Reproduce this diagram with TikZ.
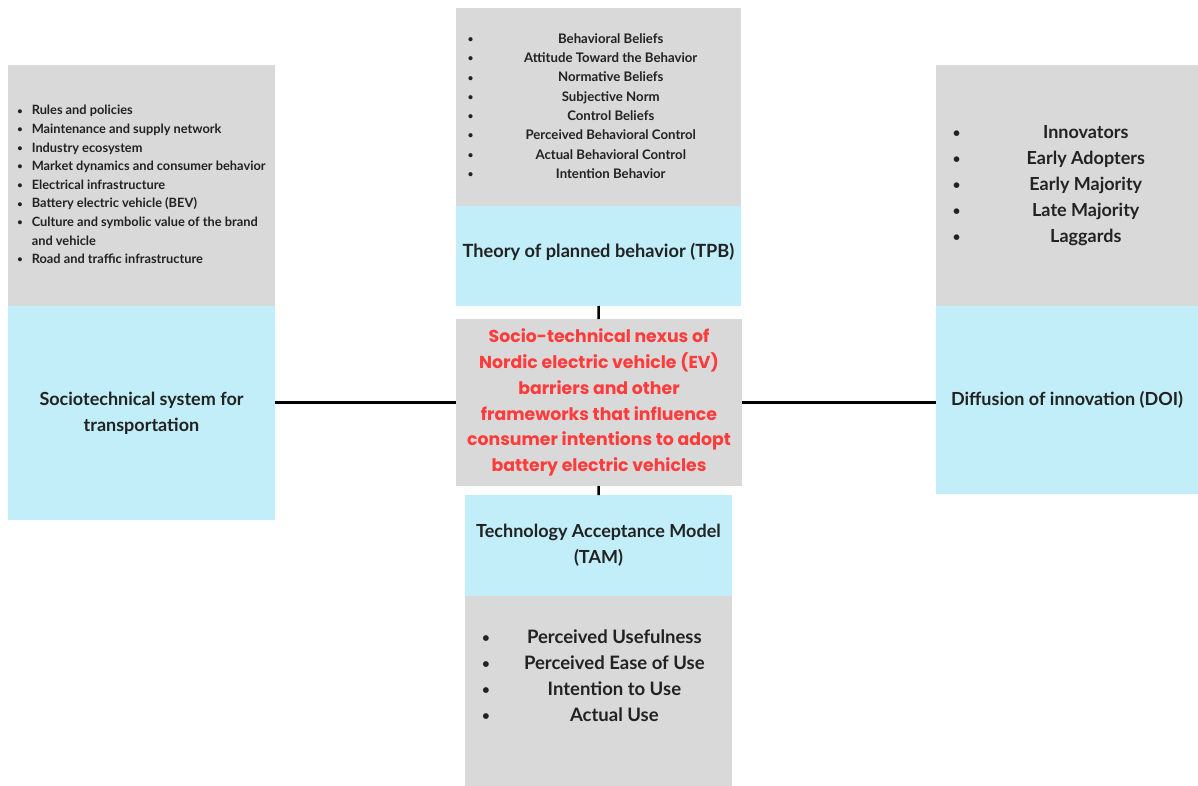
\documentclass[tikz,border=0pt]{standalone}
\usepackage{fontspec}
\setmainfont{Lato}
\newfontfamily\nexusfont{Poppins}
\usepackage{array}
\usetikzlibrary{positioning}

\definecolor{boxgray}{RGB}{217,217,217}
\definecolor{boxblue}{RGB}{193,238,249}
\definecolor{nexusred}{RGB}{255,59,59}
\definecolor{textdark}{RGB}{34,34,34}

\newcommand{\blt}{\raisebox{0.12ex}{\scalebox{0.72}{\textbullet}}}

\begin{document}
\begin{tikzpicture}[x=1pt,y=-1pt]
	\useasboundingbox (0,0) rectangle (1198,786);
	\tikzset{panel/.style={anchor=north west,inner sep=0pt,outer sep=0pt,text=textdark,align=center}}
	% left: sociotechnical system
	\draw (8,65) node (stsitems) [panel,fill=boxgray,minimum width=267pt,minimum height=241pt,font=\fontsize{12.8}{18.6}\selectfont\bfseries] {%
		\begin{tabular}{@{}l@{\hspace{9pt}}l@{}}
		\blt & Rules and policies\\
		\blt & Maintenance and supply network\\
		\blt & Industry ecosystem\\
		\blt & Market dynamics and consumer behavior\\
		\blt & Electrical infrastructure\\
		\blt & Battery electric vehicle (BEV)\\
		\blt & Culture and symbolic value of the brand\\
		     & and vehicle\\
		\blt & Road and traffic infrastructure
		\end{tabular}};
	\node (sts) [panel,fill=boxblue,below=0pt of stsitems,minimum width=267pt,minimum height=214pt,font=\fontsize{18}{26}\selectfont\bfseries] {Sociotechnical system for\\transportation};
	% top: TPB
	\draw (456,8) node (tpbitems) [panel,fill=boxgray,minimum width=285pt,minimum height=198pt,font=\fontsize{13.2}{19.3}\selectfont\bfseries] {%
		\begin{tabular}{@{}l@{\hspace{19pt}}>{\centering\arraybackslash}p{237pt}@{}}
		\blt & Behavioral Beliefs\\
		\blt & Attitude Toward the Behavior\\
		\blt & Normative Beliefs\\
		\blt & Subjective Norm\\
		\blt & Control Beliefs\\
		\blt & Perceived Behavioral Control\\
		\blt & Actual Behavioral Control\\
		\blt & Intention Behavior
		\end{tabular}};
	\node (tpb) [panel,fill=boxblue,below=0pt of tpbitems,minimum width=285pt,minimum height=100pt,font=\fontsize{18.2}{26}\selectfont\bfseries] {Theory of planned behavior (TPB)\\[-14pt]};
	% centre
	\draw (456,319) node (nexus) [panel,fill=boxgray,minimum width=286pt,minimum height=167pt,text=nexusred,font=\nexusfont\fontsize{17.3}{25.8}\selectfont\bfseries] {%
		Socio-technical nexus of\\Nordic electric vehicle (EV)\\barriers and other\\frameworks that influence\\consumer intentions to adopt\\battery electric vehicles};
	% right: DOI
	\draw (936,65) node (doiitems) [panel,fill=boxgray,minimum width=262pt,minimum height=241pt,font=\fontsize{18}{26}\selectfont\bfseries] {%
		\begin{tabular}{@{}l@{\hspace{30pt}}>{\centering\arraybackslash}p{191pt}@{}}
		\blt & Innovators\\
		\blt & Early Adopters\\
		\blt & Early Majority\\
		\blt & Late Majority\\
		\blt & Laggards
		\end{tabular}};
	\node (doi) [panel,fill=boxblue,below=0pt of doiitems,minimum width=262pt,minimum height=188pt,font=\fontsize{18}{26}\selectfont\bfseries] {Diffusion of innovation (DOI)};
	% bottom: TAM
	\draw (465,495) node (tam) [panel,fill=boxblue,minimum width=267pt,minimum height=101pt,font=\fontsize{18}{26}\selectfont\bfseries] {Technology Acceptance Model\\(TAM)};
	\node (tamitems) [panel,fill=boxgray,below=0pt of tam,minimum width=267pt,minimum height=190pt,font=\fontsize{18.5}{26}\selectfont\bfseries] {%
		\begin{tabular}{@{}l@{\hspace{24pt}}>{\centering\arraybackslash}p{201pt}@{}}
		\blt & Perceived Usefulness\\
		\blt & Perceived Ease of Use\\
		\blt & Intention to Use\\
		\blt & Actual Use\\[28pt]
		\end{tabular}};
	% links
	\draw[line width=2.5pt] (tpb) -- (nexus);
	\draw[line width=2.5pt] (nexus) -- (tam);
	\draw[line width=2.5pt] (nexus.west) -- (nexus.west -| sts.east);
	\draw[line width=2.5pt] (nexus.east) -- (nexus.east -| doi.west);
\end{tikzpicture}
\end{document}
